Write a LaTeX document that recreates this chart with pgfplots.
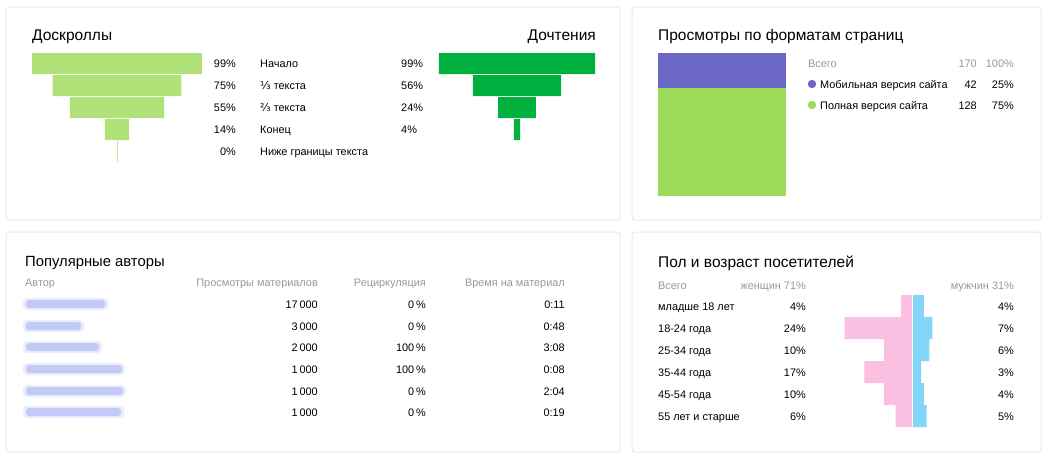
\documentclass[border=0pt]{standalone}
\usepackage{pgfplots}
\pgfplotsset{compat=1.18}
\usepackage{pgfplotstable}
\usepackage{fontspec}
\setmainfont{Liberation Sans}
\newfontfamily\dejavu{DejaVu Sans}
\definecolor{lgreen}{HTML}{B1E27A}
\definecolor{dgreen}{HTML}{00B140}
\definecolor{fpurple}{HTML}{6B67C5}
\definecolor{fgreen}{HTML}{9DDB5A}
\definecolor{fpink}{HTML}{FBBFE1}
\definecolor{fblue}{HTML}{82D5F9}
\definecolor{graytxt}{HTML}{999999}
\definecolor{linkblue}{HTML}{8592F2}
\definecolor{cardline}{HTML}{EAEAEA}

\pgfplotstableread{
row scroll
0 99
1 75
2 55
3 14
4 0
}\scrolltable
\pgfplotstableread{
row read
0 99
1 56
2 24
3 4
}\readtable
\pgfplotstableread{
row f m
0 4 4
1 24 7
2 10 6
3 17 3
4 10 4
5 6 5
}\agetable

\begin{document}
\begin{tikzpicture}[x=1pt,y=1pt,
  ttl/.style={font=\fontsize{15.5}{18}\selectfont, text=black, inner sep=0pt, yshift=-3pt},
  txt/.style={font=\fontsize{10.9}{13}\selectfont, text=black, inner sep=0pt, yshift=-1.5pt},
  gtxt/.style={font=\fontsize{10.9}{13}\selectfont, text=graytxt, inner sep=0pt, yshift=-1.5pt}]
\fill[white] (0,0) rectangle (1047,-459);
\foreach \a/\b/\c/\d in {6/7/620/220, 632/7/1041/220, 6/232/620/452, 632/232/1041/452}
  \draw[cardline, line width=1pt, fill=white, rounded corners=3pt] (\a,-\b) rectangle (\c,-\d);

% ---------- funnel: scrolls
\begin{axis}[at={(31.15pt,-52.5pt)}, anchor=north west, scale only axis,
  width=171.7pt, height=110pt, xmin=-50, xmax=50, ymin=-0.5, ymax=4.5,
  y dir=reverse, hide axis, xbar, bar width=21pt, bar shift=0pt]
\addplot[fill=lgreen, draw=none] table[x expr=\thisrow{scroll}/2, y=row] {\scrolltable};
\addplot[fill=lgreen, draw=none] table[x expr=-\thisrow{scroll}/2, y=row] {\scrolltable};
\addplot[fill=lgreen, draw=lgreen, line width=1pt] coordinates {(0,4)};
\end{axis}
% ---------- funnel: reads
\begin{axis}[at={(438.2pt,-52.5pt)}, anchor=north west, scale only axis,
  width=157.6pt, height=110pt, xmin=-50, xmax=50, ymin=-0.5, ymax=4.5,
  y dir=reverse, hide axis, xbar, bar width=21pt, bar shift=0pt]
\addplot[fill=dgreen, draw=none] table[x expr=\thisrow{read}/2, y=row] {\readtable};
\addplot[fill=dgreen, draw=none] table[x expr=-\thisrow{read}/2, y=row] {\readtable};
\end{axis}

\node[ttl, anchor=mid west] at (32,-35) {Доскроллы};
\node[ttl, anchor=mid east] at (596,-35) {Дочтения};
\foreach \y/\p/\l in {63/99/Начало, 85/75/{{\dejavu ⅓} текста}, 107/55/{{\dejavu ⅔} текста}, 129/14/Конец, 151/0/Ниже границы текста}{
  \node[txt, anchor=mid east] at (236,-\y) {\p\%};
  \node[txt, anchor=mid west] at (260,-\y) {\l};
}
\foreach \y/\p in {63/99, 85/56, 107/24, 129/4}
  \node[txt, anchor=mid west] at (401,-\y) {\p\%};

% ---------- page formats
\begin{axis}[at={(658pt,-53pt)}, anchor=north west, scale only axis,
  width=128pt, height=143pt, xmin=-0.5, xmax=0.5, ymin=0, ymax=170,
  hide axis, ybar stacked, bar width=128pt]
\addplot[fill=fgreen, draw=none] coordinates {(0,128)};
\addplot[fill=fpurple, draw=none] coordinates {(0,42)};
\end{axis}
\node[ttl, anchor=mid west] at (658,-35) {Просмотры по форматам страниц};
\node[gtxt, anchor=mid west] at (808,-63) {Всего};
\node[gtxt, anchor=mid east] at (977,-63) {170};
\node[gtxt, anchor=mid east] at (1014,-63) {100\%};
\fill[fpurple] (812,-84) circle (4.2);
\node[txt, anchor=mid west] at (820,-84) {Мобильная версия сайта};
\node[txt, anchor=mid east] at (977,-84) {42};
\node[txt, anchor=mid east] at (1014,-84) {25\%};
\fill[fgreen] (812,-105) circle (4.2);
\node[txt, anchor=mid west] at (820,-105) {Полная версия сайта};
\node[txt, anchor=mid east] at (977,-105) {128};
\node[txt, anchor=mid east] at (1014,-105) {75\%};

% ---------- authors
\node[ttl, anchor=mid west, font=\fontsize{14.8}{18}\selectfont] at (25,-261) {Популярные авторы};
\node[gtxt, anchor=mid west] at (25,-282) {Автор};
\node[gtxt, anchor=mid east] at (318,-282) {Просмотры материалов};
\node[gtxt, anchor=mid east] at (426,-282) {Рециркуляция};
\node[gtxt, anchor=mid east] at (565,-282) {Время на материал};
\foreach \y/\w/\v/\r/\t in {304/105/17\,000/0/0:11, 326/81/3\,000/0/0:48, 347/99/2\,000/100/3:08, 369/122/1\,000/100/0:08, 391/123/1\,000/0/2:04, 412/121/1\,000/0/0:19}{
  \fill[linkblue, opacity=0.16, rounded corners=4pt] (23,-\y+6) rectangle (\w+3,-\y-6);
  \fill[linkblue, opacity=0.38, rounded corners=3pt] (26,-\y+4) rectangle (\w,-\y-4);
  \node[txt, anchor=mid east] at (318,-\y) {\v};
  \node[txt, anchor=mid east] at (426,-\y) {\r\,\%};
  \node[txt, anchor=mid east] at (565,-\y) {\t};
}

% ---------- gender / age
\begin{axis}[at={(841.75pt,-295pt)}, anchor=north west, scale only axis,
  width=99.05pt, height=132pt, xmin=-25, xmax=10, ymin=-0.5, ymax=5.5,
  y dir=reverse, hide axis, xbar, bar width=22pt, bar shift=0pt]
\addplot[fill=fpink, draw=none] table[x expr=-\thisrow{f}, y=row] {\agetable};
\addplot[fill=fblue, draw=none] table[x=m, y=row] {\agetable};
\draw[white, line width=1pt] (axis cs:0,-0.5) -- (axis cs:0,5.5);
\end{axis}
\node[ttl, anchor=mid west] at (658,-262) {Пол и возраст посетителей};
\node[gtxt, anchor=mid west] at (658,-285) {Всего};
\node[gtxt, anchor=mid east] at (806,-285) {женщин 71\%};
\node[gtxt, anchor=mid east] at (1014,-285) {мужчин 31\%};
\foreach \i/\l/\f/\m in {0/младше 18 лет/4/4, 1/18-24 года/24/7, 2/25-34 года/10/6, 3/35-44 года/17/3, 4/45-54 года/10/4, 5/55 лет и старше/6/5}{
  \pgfmathsetmacro{\yy}{306+22*\i}
  \node[txt, anchor=mid west] at (658,-\yy) {\l};
  \node[txt, anchor=mid east] at (806,-\yy) {\f\%};
  \node[txt, anchor=mid east] at (1014,-\yy) {\m\%};
}
\end{tikzpicture}
\end{document}
